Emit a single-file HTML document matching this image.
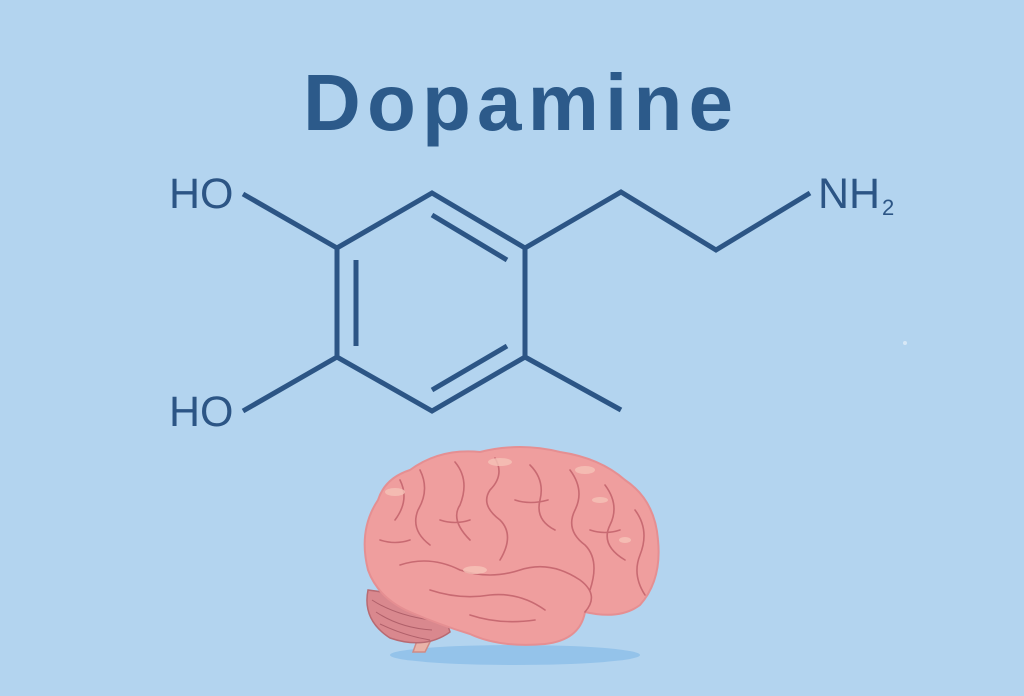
<!DOCTYPE html>
<html><head><meta charset="utf-8"><style>
html,body{margin:0;padding:0;background:#b3d4ef;}
svg{display:block}
</style></head><body>
<svg width="1024" height="696" viewBox="0 0 1024 696" xmlns="http://www.w3.org/2000/svg">
<rect width="1024" height="696" fill="#b3d4ef"/>
<text x="303" y="130" font-family="Liberation Sans, sans-serif" font-weight="bold" font-size="80" fill="#2c5a8a" textLength="430" lengthAdjust="spacing">Dopamine</text>
<g stroke="#2c5585" stroke-width="5" fill="none" stroke-linejoin="miter" stroke-linecap="butt">
<polygon points="432,193 525,248 525,357 432,411 337,357 337,248"/>
<line x1="243" y1="194" x2="337" y2="248"/>
<line x1="243" y1="411" x2="337" y2="357"/>
<polyline points="525,248 621,192 716,250 810,193"/>
<line x1="525" y1="357" x2="621" y2="410"/>
<line x1="432" y1="215" x2="507" y2="260"/>
<line x1="356" y1="260" x2="356" y2="346"/>
<line x1="432" y1="390" x2="507" y2="346"/>
</g>
<g font-family="Liberation Sans, sans-serif" font-size="43" fill="#2c5585">
<text x="169" y="208">HO</text>
<text x="169" y="426">HO</text>
<text x="818" y="208">NH</text>
<text x="882" y="215" font-size="22">2</text>
</g>
<ellipse cx="515" cy="655" rx="125" ry="10" fill="#94c3ea"/>
<path d="M440,622 L425,652 L413,652 L425,618 Z" fill="#e9b3a8" stroke="#cf8b86" stroke-width="1.5"/>
<path d="M368,590 Q362,620 390,638 Q425,650 450,632 L440,600 Z" fill="#d9888e" stroke="#b86a72" stroke-width="1.5"/>
<path d="M372,600 Q395,615 430,620 M376,612 Q400,628 432,630 M380,624 Q405,636 430,640" stroke="#b0606a" stroke-width="1" fill="none"/>
<path d="M378,500 Q385,478 410,470 Q440,448 480,452 Q520,442 560,452 Q600,458 625,480 Q655,500 658,540 Q662,580 640,605 Q620,620 585,612 Q580,640 545,644 Q500,648 470,634 Q440,625 410,612 Q378,598 368,570 Q358,530 378,500 Z" fill="#ef9e9e" stroke="#e58f92" stroke-width="2"/>
<g stroke="#c86a72" stroke-width="1.6" fill="none" stroke-linecap="round">
<path d="M395,520 Q410,500 400,480"/>
<path d="M420,470 Q430,490 418,510 Q410,530 430,545"/>
<path d="M455,462 Q470,480 460,505 Q450,520 470,540"/>
<path d="M495,458 Q505,475 490,490 Q480,505 500,520 Q515,535 500,560"/>
<path d="M530,465 Q545,480 540,500 Q535,520 555,530"/>
<path d="M570,470 Q585,490 575,510 Q565,530 585,545 Q600,560 590,590"/>
<path d="M605,485 Q620,505 610,525 Q600,545 625,560"/>
<path d="M635,510 Q650,530 640,555 Q632,575 645,595"/>
<path d="M400,565 Q430,555 460,570 Q490,580 520,570 Q550,560 580,580 Q600,595 585,612"/>
<path d="M430,590 Q460,600 490,595 Q520,592 545,610"/>
<path d="M470,615 Q500,625 535,620"/>
<path d="M380,540 Q395,545 410,540"/>
<path d="M440,520 Q455,525 470,520"/>
<path d="M515,500 Q530,505 548,500"/>
<path d="M590,530 Q605,535 620,530"/>
</g>
<g fill="#f6c3b8" opacity="0.8">
<ellipse cx="395" cy="492" rx="10" ry="4"/>
<ellipse cx="500" cy="462" rx="12" ry="4"/>
<ellipse cx="585" cy="470" rx="10" ry="4"/>
<ellipse cx="600" cy="500" rx="8" ry="3"/>
<ellipse cx="475" cy="570" rx="12" ry="4"/>
<ellipse cx="625" cy="540" rx="6" ry="3"/>
</g>
<circle cx="905" cy="343" r="2" fill="#d8e8f6"/>
</svg>
</body></html>
